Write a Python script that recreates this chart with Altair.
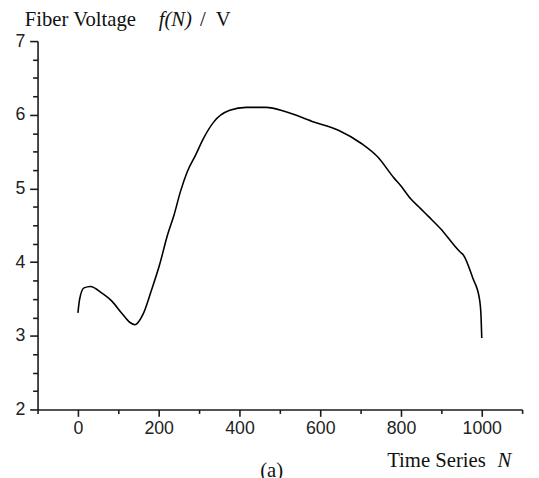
import altair as alt
import pandas as pd

# Curve
n_vals = [0, 4, 15, 31, 59, 84, 108, 129, 141, 161, 181, 202, 222, 238, 254, 271, 291,
          311, 336, 376, 417, 466, 515, 580, 645, 702, 742, 783, 799, 824, 848, 868,
          897, 946, 954, 978, 994, 998, 1000]
f_vals = [3.31, 3.49, 3.65, 3.67, 3.58, 3.47, 3.31, 3.18, 3.15, 3.29, 3.60, 3.96, 4.37,
          4.64, 4.96, 5.23, 5.45, 5.68, 5.90, 6.06, 6.10, 6.10, 6.04, 5.91, 5.79, 5.61,
          5.43, 5.14, 5.04, 4.86, 4.73, 4.62, 4.46, 4.14, 4.10, 3.78, 3.51, 3.29, 2.97]

x_ticks = list(range(-100, 1101, 100))
y_ticks = [2 + 0.25 * i for i in range(21)]

df = pd.DataFrame({"N": n_vals, "f": f_vals})

SERIF = "Liberation Serif, Times New Roman, serif"
SANS = "Liberation Sans, Arial, sans-serif"
AX = "#1a1a1a"

line = alt.Chart(df).mark_line(color="black", strokeWidth=1.6, interpolate="monotone").encode(
    x=alt.X("N:Q",
            scale=alt.Scale(domain=[-100, 1100], nice=False, zero=False),
            axis=alt.Axis(values=x_ticks, title=None, grid=False, format="d",
                          labelExpr="(datum.value % 200 == 0 && datum.value >= 0 && datum.value <= 1000) ? format(datum.value, 'd') : ''",
                          tickSize=alt.condition("datum.value % 200 == 0", alt.value(7), alt.value(4)),
                          labelOverlap=False, labelFlush=False, labelPadding=3,
                          labelFont=SANS, labelFontSize=18, labelColor="#222",
                          domainColor=AX, domainWidth=1.6, tickColor=AX, tickWidth=1.6)),
    y=alt.Y("f:Q",
            scale=alt.Scale(domain=[2, 7], nice=False, zero=False),
            axis=alt.Axis(values=y_ticks, title=None, grid=False,
                          labelExpr="datum.value % 1 == 0 ? format(datum.value, 'd') : ''",
                          tickSize=alt.condition("datum.value % 1 == 0", alt.value(8), alt.value(5)),
                          labelOverlap=False, labelFlush=False, labelPadding=5,
                          labelFont=SANS, labelFontSize=18, labelColor="#222",
                          domainColor=AX, domainWidth=1.6, tickColor=AX, tickWidth=1.6)),
)

one = alt.Data(values=[{"k": 1}])

def txt(s, x, y, italic=False):
    return alt.Chart(one).mark_text(
        align="left", baseline="alphabetic", font=SERIF, fontSize=21,
        fontStyle="italic" if italic else "normal", color="#111"
    ).encode(x=alt.value(x), y=alt.value(y), text=alt.value(s))

texts = [
    txt("Fiber Voltage", -13, -15),
    txt("f(N)", 123, -15, italic=True),
    txt("/", 165, -15),
    txt("V", 181, -15),
    txt("Time Series", 355, 432),
    txt("N", 467, 432, italic=True),
    txt("(a)", 226, 443),
]

chart = alt.layer(line, *texts).properties(
    width=492, height=374,
    autosize=alt.AutoSizeParams(type="none"),
    padding={"left": 30, "top": 30, "right": 9, "bottom": 66},
).configure_view(stroke=None)

chart.save("out.html", embed_options={"renderer": "svg", "actions": False})
